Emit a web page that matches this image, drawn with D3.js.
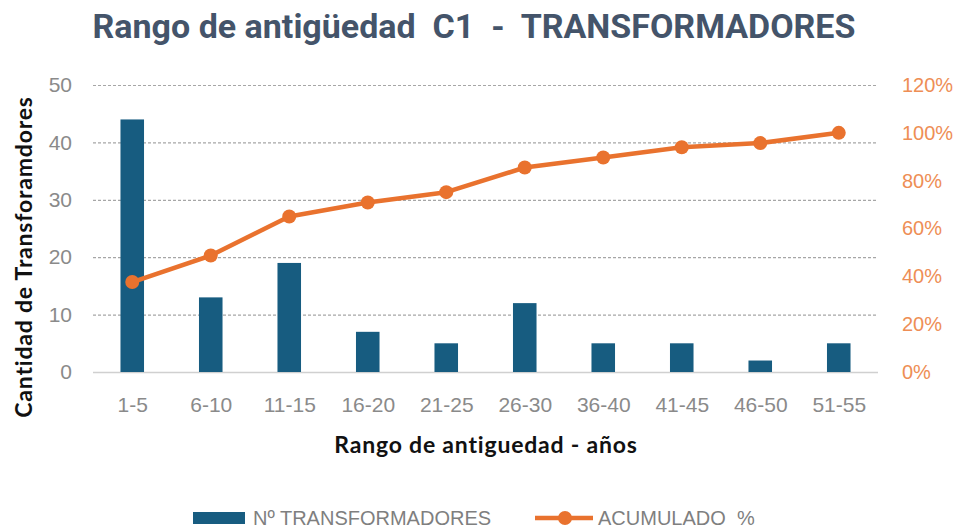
<!DOCTYPE html>
<html><head><meta charset="utf-8">
<script src="https://cdn.jsdelivr.net/npm/d3@7"></script>
<style>body{margin:0;background:#fff}svg{display:block}</style>
</head><body><svg id="c" width="958" height="528"></svg>
<script>
const categories = ["1-5","6-10","11-15","16-20","21-25","26-30","36-40","41-45","46-50","51-55"];
const transformadores = [44,13,19,7,5,12,5,5,2,5];
const acumulado = [37.6,48.7,65.0,70.9,75.2,85.5,89.7,94.0,95.7,100];
const leftTicks = [0,10,20,30,40,50];
const rightTicks = [0,20,40,60,80,100,120];

const svg = d3.select("#c");
const L = 93, R = 878, T = 85, B = 372;
const x = d3.scaleBand().domain(categories).range([L,R]).paddingInner(0.7).paddingOuter(0.35);
const xc = d3.scalePoint().domain(categories).range([L,R]).padding(0.5);
const y = d3.scaleLinear().domain([0,50]).range([B,T]);
const y2 = d3.scaleLinear().domain([0,120]).range([B,T]);
const blue = "#175C80", orange = "#E9722E";
const sans = "'Liberation Sans', Arial, sans-serif";

// title
svg.append("text").attr("x",474).attr("y",38).attr("text-anchor","middle")
  .attr("font-family","Roboto, 'Open Sans', sans-serif").attr("font-weight","bold")
  .attr("font-size",34).attr("fill","#44546A").attr("xml:space","preserve")
  .text("Rango de antigüedad  C1  -  TRANSFORMADORES");

// grid
svg.append("g").selectAll("line").data(leftTicks.filter(d=>d>0)).join("line")
  .attr("x1",L).attr("x2",R).attr("y1",d=>y(d)+0.5).attr("y2",d=>y(d)+0.5)
  .attr("stroke","#a6a6a6").attr("stroke-width",1.2).attr("stroke-dasharray","3,2");
svg.append("line").attr("x1",L).attr("x2",R).attr("y1",B+0.5).attr("y2",B+0.5)
  .attr("stroke","#d0d0d0").attr("stroke-width",1.5);

// left axis
const ax = d3.axisLeft(y).tickValues(leftTicks).tickSize(0).tickPadding(21);
const gl = svg.append("g").attr("transform",`translate(${L},0)`).call(ax);
gl.select(".domain").remove();
gl.selectAll("text").attr("font-family",sans).attr("font-size",21).attr("fill","#8a8a8a");

// right axis
const ax2 = d3.axisRight(y2).tickValues(rightTicks).tickFormat(d=>d+"%").tickSize(0).tickPadding(24);
const gr = svg.append("g").attr("transform",`translate(${R},0)`).call(ax2);
gr.select(".domain").remove();
gr.selectAll("text").attr("font-family",sans).attr("font-size",20).attr("fill","#EE8E55");

// x axis
const axb = d3.axisBottom(xc).tickSize(0).tickPadding(25);
const gb = svg.append("g").attr("transform",`translate(0,${B})`).call(axb);
gb.select(".domain").remove();
gb.selectAll("text").attr("font-family",sans).attr("font-size",21).attr("fill","#8a8a8a");

// bars
svg.append("g").selectAll("rect").data(transformadores).join("rect")
  .attr("x",(d,i)=>x(categories[i])).attr("width",x.bandwidth())
  .attr("y",d=>y(d)).attr("height",d=>B-y(d)).attr("fill",blue);

// line
svg.append("path").datum(acumulado)
  .attr("d",d3.line().x((d,i)=>xc(categories[i])).y(d=>y2(d)))
  .attr("fill","none").attr("stroke",orange).attr("stroke-width",4.5).attr("stroke-linejoin","round");
svg.append("g").selectAll("circle").data(acumulado).join("circle")
  .attr("cx",(d,i)=>xc(categories[i])).attr("cy",d=>y2(d)).attr("r",7).attr("fill",orange);

// axis titles
svg.append("text").attr("transform",`translate(32,257) rotate(-90)`).attr("text-anchor","middle")
  .attr("font-family","Lato, sans-serif").attr("font-weight","bold").attr("font-size",23)
  .attr("letter-spacing",0.8).attr("fill","#111")
  .text("Cantidad de Transforamdores");
svg.append("text").attr("x",486).attr("y",453).attr("text-anchor","middle")
  .attr("font-family","Lato, sans-serif").attr("font-weight","bold").attr("font-size",23)
  .attr("letter-spacing",0.8).attr("fill","#111")
  .text("Rango de antiguedad - años");

// legend
const lg = svg.append("g");
lg.append("rect").attr("x",193).attr("y",512).attr("width",52).attr("height",12).attr("fill",blue);
lg.append("text").attr("x",253).attr("y",525).attr("font-family",sans)
  .attr("font-size",20).attr("fill","#7f7f7f").text("Nº TRANSFORMADORES");
lg.append("line").attr("x1",535).attr("x2",593).attr("y1",518).attr("y2",518).attr("stroke",orange).attr("stroke-width",4.5);
lg.append("circle").attr("cx",565).attr("cy",518).attr("r",7).attr("fill",orange);
lg.append("text").attr("x",598).attr("y",525).attr("font-family",sans)
  .attr("font-size",20).attr("fill","#7f7f7f").attr("xml:space","preserve").text("ACUMULADO  %");
</script></body></html>
